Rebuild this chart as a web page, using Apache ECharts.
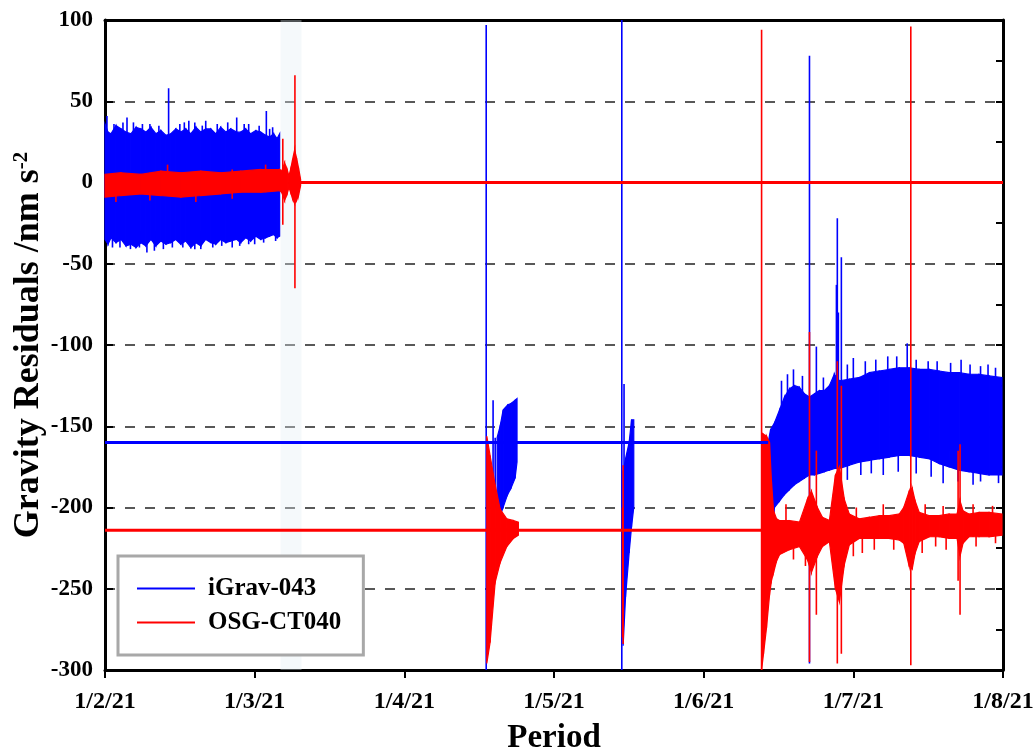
<!DOCTYPE html>
<html><head><meta charset="utf-8">
<script src="https://cdn.jsdelivr.net/npm/echarts@6/dist/echarts.min.js"></script>
<style>html,body{margin:0;padding:0;background:#fff}#c{width:1035px;height:754px}</style>
</head><body><div id="c"></div>
<script>
// x values are in months from 1/2/21 (0) to 1/8/21 (6)
const tickLabels = ['1/2/21','1/3/21','1/4/21','1/5/21','1/6/21','1/7/21','1/8/21'];
const seriesNames = ['iGrav-043','OSG-CT040'];

// ---- iGrav-043 (blue): envelope bands [x, upper, lower]
const blueBandFeb = [[0.000,36,-35],[0.020,31,-38],[0.040,30,-34],[0.073,35,-37],[0.107,33,-35],[0.140,31,-39],[0.173,30,-38],[0.207,34,-40],[0.240,33,-37],[0.273,31,-39],[0.307,34,-35],[0.340,30,-39],[0.373,32,-36],[0.407,29,-38],[0.440,30,-37],[0.473,33,-35],[0.507,31,-38],[0.540,33,-36],[0.573,30,-40],[0.607,34,-37],[0.640,31,-39],[0.673,33,-35],[0.707,33,-37],[0.740,30,-38],[0.773,34,-35],[0.807,31,-37],[0.840,33,-36],[0.880,31,-35],[0.907,31,-37],[0.940,33,-34],[0.973,30,-36],[1.007,32,-33],[1.040,31,-35],[1.073,29,-34],[1.100,28,-33],[1.127,30,-32],[1.150,27,-34],[1.167,30,-33]];
const blueBandApr = [[2.620,-157,-200],[2.640,-150,-205],[2.660,-140,-200],[2.690,-137,-192],[2.713,-136,-188],[2.740,-134,-182],[2.753,-133,-172]];
const blueBandMay = [[3.462,-178,-285],[3.478,-170,-255],[3.502,-160,-228],[3.518,-146,-212],[3.533,-146,-200]];
const blueBandJun = [[4.431,-160,-205],[4.447,-152,-210],[4.473,-148,-200],[4.507,-140,-196],[4.540,-132,-192],[4.573,-127,-189],[4.607,-125,-186],[4.640,-126,-184],[4.673,-130,-182],[4.707,-132,-180],[4.740,-130,-180],[4.773,-128,-179],[4.807,-128,-178],[4.840,-125,-177],[4.873,-118,-176],[4.907,-122,-176],[4.973,-121,-174],[5.040,-120,-172],[5.107,-117,-171],[5.173,-116,-170],[5.240,-115,-169],[5.307,-114,-168],[5.373,-114,-168],[5.440,-115,-169],[5.507,-115,-170],[5.573,-116,-173],[5.640,-117,-175],[5.707,-117,-177],[5.773,-118,-178],[5.840,-118,-179],[5.907,-119,-180],[5.993,-120,-180]];
// spikes [x, low, high]
const blueSpikes = [[0.013,-30,41],[0.147,-30,40],[0.425,-30,58],[0.560,-30,38],[0.673,-30,38],[0.880,-30,40],[1.078,-30,44],[0.190,0,37],[0.300,0,36],[0.500,0,36],[0.600,0,37],[0.750,0,36],[0.960,0,36],[1.120,0,34],
  [0.060,0,36],[0.120,0,37],[0.250,0,36],[0.360,0,35],[0.530,0,37],[0.650,0,35],[0.820,0,37],[0.930,0,36],[1.030,0,35],[1.100,0,33],
  [0.330,-42,-30],[0.280,-43,-30],[0.640,-41,-30],[0.900,-39,-30],[0.230,-40,-30],[0.780,-39,-30],[0.100,-40,0],[0.450,-40,0],[0.720,-40,0],[1.000,-38,0],[1.140,-36,0],
  [0.050,-40,0],[0.170,-41,0],[0.390,-41,0],[0.520,-40,0],[0.600,-41,0],[0.850,-40,0],[0.960,-38,0],[1.060,-37,0],
  [2.547,-300,97],[2.593,-188,-134],[2.607,-200,-157],
  [3.453,-300,100],[3.468,-250,-124],
  [4.707,-296,78],[4.753,-180,-101],[4.887,-170,-63],[4.893,-175,-22],[4.900,-170,-80],[4.920,-175,-46],[5.360,-165,-99],[4.600,-180,-115],[5.000,-170,-108],[5.230,-160,-107],[5.500,-165,-110],[5.780,-170,-112],[5.950,-175,-114],
  [4.520,-170,-122],[4.560,-170,-118],[4.660,-170,-119],[4.800,-170,-120],[4.960,-160,-112],[5.080,-160,-110],[5.150,-160,-109],[5.290,-160,-107],[5.420,-160,-109],[5.560,-165,-110],[5.650,-165,-111],[5.720,-165,-109],[5.850,-170,-113],[5.900,-170,-112],
  [4.960,-183,-150],[5.200,-180,-150],[5.600,-185,-150],[5.850,-184,-155],[4.470,-208,-180],
  [5.050,-180,-150],[5.120,-179,-150],[5.300,-178,-150],[5.420,-179,-150],[5.520,-181,-150],[5.700,-184,-150],[5.800,-186,-150],[5.970,-185,-150]];
// flat stretches [xStart, xEnd, value]
const blueFlat = [[0,4.431,-160]];

// ---- OSG-CT040 (red)
const redBandFeb = [[0.000,5,-9],[0.107,6,-8],[0.240,5,-7],[0.373,7,-8],[0.507,6,-9],[0.640,7,-8],[0.773,6,-7],[0.907,7,-6],[1.040,8,-6],[1.167,8,-5],[1.180,7,-6],[1.200,12,-11],[1.217,8,-7],[1.229,4,-3],[1.240,8,-6],[1.253,14,-10],[1.267,20,-13],[1.280,15,-11],[1.293,9,-8],[1.307,2,-2]];
const redBandApr = [[2.551,-156,-296],[2.573,-168,-283],[2.607,-186,-246],[2.640,-201,-234],[2.685,-207,-224],[2.729,-208,-219],[2.762,-209,-217]];
const redBandJun = [[4.387,-154,-300],[4.400,-155,-290],[4.420,-156,-274],[4.440,-160,-254],[4.453,-184,-245],[4.467,-202,-240],[4.487,-207,-233],[4.507,-208,-229],[4.573,-208,-226],[4.640,-209,-224],[4.693,-195,-232],[4.720,-190,-240],[4.760,-200,-230],[4.793,-206,-224],[4.840,-208,-221],[4.880,-180,-250],[4.907,-175,-258],[4.940,-195,-235],[4.973,-204,-223],[5.040,-207,-219],[5.107,-206,-219],[5.173,-205,-219],[5.240,-205,-219],[5.307,-204,-220],[5.337,-200,-222],[5.373,-190,-236],[5.393,-188,-238],[5.413,-196,-228],[5.440,-203,-221],[5.507,-205,-218],[5.573,-205,-218],[5.640,-204,-219],[5.693,-204,-219],[5.713,-196,-230],[5.733,-202,-222],[5.773,-204,-218],[5.840,-203,-218],[5.907,-203,-218],[5.993,-204,-217]];
const redSpikes = [[0.073,-12,5],[0.418,-8,11],[0.607,-12,7],[1.073,-6,11],[0.300,-11,6],[0.850,-10,8],[1.188,-26,27],[1.269,-65,66],
  [3.458,-280,-200],[3.462,-284,-174],
  [4.387,-300,94],[4.707,-295,-92],[4.753,-266,-165],[4.893,-296,-110],[4.920,-290,-125],[5.384,-297,96],[5.700,-245,-165],[5.713,-266,-161],
  [4.600,-232,-210],[4.680,-236,-210],[5.000,-230,-210],[5.060,-228,-210],[5.140,-226,-210],[5.270,-226,-210],[5.460,-228,-210],[5.550,-224,-210],[5.620,-226,-210],[5.820,-224,-210],[5.950,-222,-210],
  [4.550,-218,-198],[5.020,-218,-200],[5.200,-218,-198],[5.480,-218,-198],[5.600,-218,-199],[5.800,-218,-198],[5.930,-218,-199]];
const redFlat = [[0,4.387,-214],[1.307,6,0]];

// faint shaded gap
const shadeSpan = [[1.173,1.313]];

const FONT = 'Liberation Serif';
const BLUE = '#0000ff', RED = '#ff0000';

function pairs(segs){
  const out = [];
  segs.forEach(pts => { for (let i = 0; i < pts.length - 1; i++) out.push([pts[i][0],pts[i][1],pts[i][2],pts[i+1][0],pts[i+1][1],pts[i+1][2]]); });
  return out;
}
function bandSeries(name, color, segs){
  return { type:'custom', name, silent:true, itemStyle:{color}, data: pairs(segs),
    encode:{x:[0,3], y:[1,2,4,5]},
    renderItem(p, api){
      const a = api.coord([api.value(0), api.value(1)]), b = api.coord([api.value(3), api.value(4)]),
            c = api.coord([api.value(3), api.value(5)]), d = api.coord([api.value(0), api.value(2)]);
      return {type:'polygon', shape:{points:[a,b,c,d]}, style:{fill:color, stroke:color, lineWidth:1.2}};
    }};
}
function spikeSeries(name, color, data, w){
  return { type:'custom', name, silent:true, itemStyle:{color}, data, encode:{x:0, y:[1,2]},
    renderItem(p, api){
      const a = api.coord([api.value(0), api.value(1)]), b = api.coord([api.value(0), api.value(2)]);
      return {type:'line', shape:{x1:a[0], y1:a[1], x2:b[0], y2:b[1]}, style:{stroke:color, lineWidth:w}};
    }};
}
function flatSeries(name, color, data){
  return { type:'custom', name, silent:true, itemStyle:{color}, data, encode:{x:[0,1], y:2},
    renderItem(p, api){
      const a = api.coord([api.value(0), api.value(2)]), b = api.coord([api.value(1), api.value(2)]);
      return {type:'line', shape:{x1:a[0], y1:a[1], x2:b[0], y2:b[1]}, style:{stroke:color, lineWidth:2.8}};
    }};
}

const chart = echarts.init(document.getElementById('c'), null, {renderer:'canvas'});
chart.setOption({
  animation:false,
  backgroundColor:'#fff',
  grid:{left:105, right:32, top:20, bottom:84, containLabel:false, outerBoundsMode:'none'},
  legend:{
    orient:'vertical', left:118, top:556,
    data:[{name:seriesNames[0], icon:'rect'},{name:seriesNames[1], icon:'rect'}],
    itemWidth:58, itemHeight:2, itemGap:9,
    padding:[20,22,20,19],
    borderColor:'#a8a8a8', borderWidth:3, backgroundColor:'#fff',
    textStyle:{fontFamily:FONT, fontWeight:'bold', fontSize:25, color:'#000', lineHeight:25, padding:[0,0,0,8]},
    selectedMode:false
  },
  xAxis:[{
    type:'value', min:0, max:6, interval:1, position:'bottom',
    name:'Period', nameLocation:'middle', nameGap:52, nameMoveOverlap:false,
    nameTextStyle:{fontFamily:FONT, fontWeight:'bold', fontSize:33, color:'#000'},
    axisLine:{show:true, onZero:false, lineStyle:{color:'#000', width:3}},
    axisTick:{show:true, inside:false, length:8, lineStyle:{color:'#000', width:2}},
    axisLabel:{margin:20, fontFamily:FONT, fontWeight:'bold', fontSize:24, color:'#000', formatter:v => tickLabels[Math.round(v)]},
    splitLine:{show:false}
  },{
    type:'value', min:0, max:6, interval:1, position:'top',
    axisLine:{show:true, onZero:false, lineStyle:{color:'#000', width:3}},
    axisTick:{show:false}, axisLabel:{show:false}, splitLine:{show:false}
  }],
  yAxis:[{
    type:'value', min:-300, max:100, interval:50, position:'left',
    name:'Gravity Residuals /nm s{sup|-2}', nameLocation:'middle', nameGap:58, nameMoveOverlap:false,
    nameTextStyle:{fontFamily:FONT, fontWeight:'bold', fontSize:36, color:'#000',
      rich:{sup:{fontFamily:FONT, fontWeight:'bold', fontSize:21, color:'#000', verticalAlign:'top', lineHeight:20}}},
    axisLine:{show:true, onZero:false, lineStyle:{color:'#000', width:3}},
    axisTick:{show:true, inside:true, length:8, lineStyle:{color:'#000', width:2}},
    axisLabel:{margin:12, fontFamily:FONT, fontWeight:'bold', fontSize:23, color:'#000'},
    splitLine:{show:true, lineStyle:{color:'#222', width:1.5, type:[10,10]}}
  },{
    type:'value', min:-300, max:100, interval:50, position:'right',
    axisLine:{show:true, onZero:false, lineStyle:{color:'#000', width:3}},
    axisTick:{show:true, inside:true, length:7, lineStyle:{color:'#000', width:2}},
    minorTick:{show:true, splitNumber:2, length:7, lineStyle:{color:'#000', width:2}},
    axisLabel:{show:false}, splitLine:{show:false}
  }],
  series:[
    { type:'custom', name:'shade', silent:true, data:shadeSpan, encode:{x:[0,1]}, z:1,
      renderItem(p, api){
        const a = api.coord([api.value(0), 100]), b = api.coord([api.value(1), -300]);
        return {type:'rect', shape:{x:a[0], y:a[1], width:b[0]-a[0], height:b[1]-a[1]}, style:{fill:'rgba(225,238,244,0.35)'}};
      }},
    bandSeries(seriesNames[0], BLUE, [blueBandFeb, blueBandApr, blueBandMay, blueBandJun]),
    spikeSeries(seriesNames[0], BLUE, blueSpikes, 1.6),
    bandSeries(seriesNames[1], RED, [redBandFeb, redBandApr, redBandJun]),
    spikeSeries(seriesNames[1], RED, redSpikes, 1.6),
    flatSeries(seriesNames[0], BLUE, blueFlat),
    flatSeries(seriesNames[1], RED, redFlat)
  ]
});
</script></body></html>
